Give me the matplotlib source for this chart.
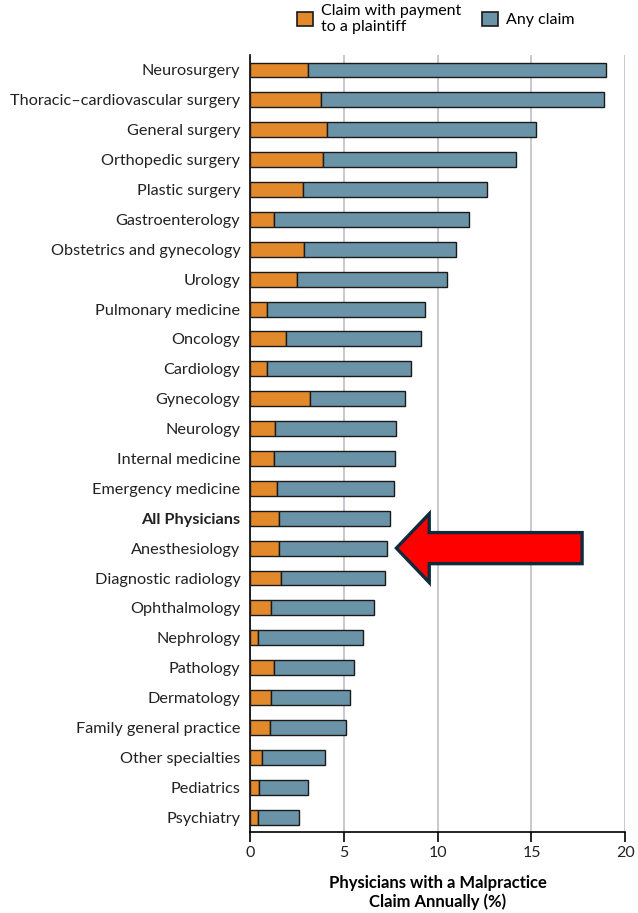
import matplotlib
matplotlib.use("Agg")
import matplotlib.pyplot as plt
from matplotlib.patches import Patch, Polygon

plt.rcParams['font.family'] = ['Lato', 'DejaVu Sans']

specialties = [
    "Neurosurgery", "Thoracic\u2013cardiovascular surgery", "General surgery",
    "Orthopedic surgery", "Plastic surgery", "Gastroenterology",
    "Obstetrics and gynecology", "Urology", "Pulmonary medicine", "Oncology",
    "Cardiology", "Gynecology", "Neurology", "Internal medicine",
    "Emergency medicine", "All Physicians", "Anesthesiology",
    "Diagnostic radiology", "Ophthalmology", "Nephrology", "Pathology",
    "Dermatology", "Family general practice", "Other specialties",
    "Pediatrics", "Psychiatry",
]
payment = [3.1, 3.8, 4.1, 3.9, 2.8, 1.3, 2.85, 2.5, 0.9, 1.9,
           0.9, 3.2, 1.35, 1.3, 1.45, 1.55, 1.55,
           1.65, 1.1, 0.4, 1.3, 1.1, 1.05, 0.65, 0.5, 0.4]
any_claim = [19.0, 18.85, 15.25, 14.15, 12.65, 11.65, 11.0, 10.5, 9.3, 9.1,
             8.6, 8.25, 7.8, 7.7, 7.65, 7.45, 7.3,
             7.2, 6.6, 6.0, 5.55, 5.3, 5.1, 4.0, 3.1, 2.6]
xticks = [0, 5, 10, 15, 20]
highlight = "Anesthesiology"

orange = "#E2892C"
blue = "#6B93A8"

fig = plt.figure(figsize=(6.38, 9.13), dpi=100)
ax = fig.add_axes([0.392, 0.0887, 0.588, 0.851])

y = list(range(len(specialties)))
rest = [a - p for a, p in zip(any_claim, payment)]
ax.barh(y, payment, height=0.5, color=orange, edgecolor="#1a1a1a", linewidth=1.0, zorder=3)
ax.barh(y, rest, left=payment, height=0.5, color=blue, edgecolor="#1a1a1a", linewidth=1.0, zorder=3)

ax.set_ylim(len(specialties) - 0.5, -0.5)
ax.set_xlim(0, 20)
ax.set_xticks(xticks)
ax.set_xticklabels([str(t) for t in xticks], fontsize=11.5, color="#222222")
ax.set_yticks(y)
ax.set_yticklabels(specialties, fontsize=11.7, color="#222222")
for lbl in ax.get_yticklabels():
    if lbl.get_text() == "All Physicians":
        lbl.set_fontweight("bold")
ax.tick_params(axis='y', length=0, pad=7)
ax.tick_params(axis='x', length=7, width=1.2, direction='out', pad=3)

ax.grid(axis='x', color="#C4C4CA", linewidth=1.3, zorder=0)
ax.set_axisbelow(True)
for s in ["top", "right"]:
    ax.spines[s].set_visible(False)
ax.spines["left"].set_linewidth(1.2)
ax.spines["bottom"].set_linewidth(1.2)

ax.set_xlabel("Physicians with a Malpractice\nClaim Annually (%)", fontsize=12,
              fontweight="bold", labelpad=11, linespacing=1.2)

# legend
handles = [Patch(facecolor=orange, edgecolor="#1a1a1a", linewidth=1.2),
           Patch(facecolor=blue, edgecolor="#1a1a1a", linewidth=1.2)]
fig.legend(handles, ["Claim with payment\nto a plaintiff", "Any claim"],
           loc="upper left", bbox_to_anchor=(0.448, 1.008), ncol=2, frameon=False,
           fontsize=11.5, handlelength=1.0, handleheight=1.0, handletextpad=0.5,
           columnspacing=1.3, borderaxespad=0.3, labelspacing=0.2)

# red arrow pointing at highlighted row
i = specialties.index(highlight)
tip = any_claim[i] + 0.5
hb = tip + 1.75
end = 17.7
bh = 0.52
hh = 1.15
pts = [(tip, i), (hb, i - hh), (hb, i - bh), (end, i - bh),
       (end, i + bh), (hb, i + bh), (hb, i + hh)]
ax.add_patch(Polygon(pts, closed=True, facecolor="#FF0000", edgecolor="#0E2A3B",
                     linewidth=2.4, joinstyle="miter", zorder=5, clip_on=False))

fig.savefig("out.png", dpi=100)
